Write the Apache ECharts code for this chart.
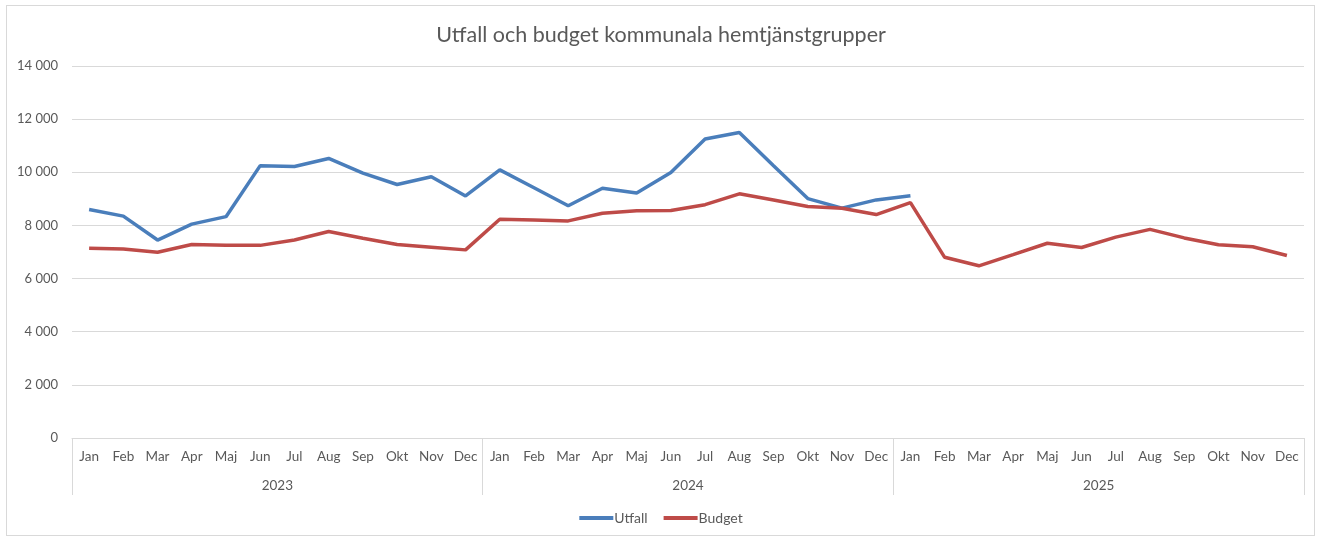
<!DOCTYPE html>
<html>
<head>
<meta charset="utf-8">
<style>
  html, body { margin: 0; padding: 0; background: #fff; }
  #frame { position: absolute; left: 6px; top: 5px; width: 1309px; height: 531px; border: 1px solid #d9d9d9; box-sizing: border-box; }
  #chart { position: absolute; left: 0; top: 0; width: 1322px; height: 539px; }
</style>
<script src="https://cdn.jsdelivr.net/npm/echarts@6/dist/echarts.min.js"></script>
</head>
<body>
<div id="frame"></div>
<div id="chart"></div>
<script>
const months = ['Jan', 'Feb', 'Mar', 'Apr', 'Maj', 'Jun', 'Jul', 'Aug', 'Sep', 'Okt', 'Nov', 'Dec'];
const years = ['2023', '2024', '2025'];

// Utfall (bara fram till jan 2025)
const utfall = [
  8600, 8350, 7450, 8050, 8330, 10250, 10220, 10520, 9970, 9540, 9830, 9110,
  10090, 9420, 8740, 9400, 9220, 9990, 11250, 11500, 10250, 9010, 8650, 8960,
  9120, null, null, null, null, null, null, null, null, null, null, null
];

const budget = [
  7140, 7110, 6990, 7280, 7250, 7250, 7450, 7770, 7520, 7280, 7180, 7080,
  8230, 8200, 8170, 8460, 8550, 8560, 8780, 9190, 8960, 8710, 8650, 8410,
  8860, 6800, 6480, 6900, 7330, 7170, 7560, 7850, 7530, 7270, 7200, 6870
];

const categories = [];
years.forEach(() => months.forEach(m => categories.push(m)));

const chart = echarts.init(document.getElementById('chart'));
const textColor = '#595959';
const font = 'Lato, "Open Sans", sans-serif';

chart.setOption({
  backgroundColor: 'transparent',
  animation: false,
  title: {
    text: 'Utfall och budget kommunala hemtjänstgrupper',
    left: 'center',
    top: 19,
    textStyle: { color: textColor, fontSize: 21.5, fontWeight: 'normal', fontFamily: font },
  },
  legend: {
    data: ['Utfall', 'Budget'],
    bottom: 9,
    left: 'center',
    icon: 'rect',
    itemWidth: 34,
    itemHeight: 4,
    itemGap: 16,
    textStyle: { color: textColor, fontSize: 14, fontFamily: font, padding: [0, 0, 0, -4] },
  },
  grid: { left: 72, right: 18, top: 66, bottom: 101 },
  xAxis: [
    {
      type: 'category',
      data: categories,
      boundaryGap: true,
      axisLine: { lineStyle: { color: '#d9d9d9', width: 1 } },
      axisTick: { show: false },
      axisLabel: { color: textColor, fontSize: 13.5, fontFamily: font, margin: 12, interval: 0 },
    },
    {
      type: 'category',
      data: years,
      position: 'bottom',
      boundaryGap: true,
      axisLine: { show: false },
      axisTick: { show: true, length: 57, lineStyle: { color: '#d9d9d9' } },
      axisLabel: { color: textColor, fontSize: 13.5, fontFamily: font, margin: 41 },
    },
  ],
  yAxis: {
    type: 'value',
    min: 0,
    max: 14000,
    interval: 2000,
    axisLine: { show: false },
    axisTick: { show: false },
    axisLabel: {
      color: textColor,
      fontSize: 13,
      fontFamily: font,
      margin: 14,
      formatter: v => v.toLocaleString('sv-SE').replace(/\s/g, ' '),
    },
    splitLine: { lineStyle: { color: '#d9d9d9', width: 1 } },
  },
  series: [
    {
      name: 'Utfall',
      type: 'line',
      data: utfall,
      showSymbol: false,
      connectNulls: false,
      lineStyle: { color: '#4a7ebb', width: 3.5 },
      itemStyle: { color: '#4a7ebb' },
    },
    {
      name: 'Budget',
      type: 'line',
      data: budget,
      showSymbol: false,
      lineStyle: { color: '#be4b48', width: 3.5 },
      itemStyle: { color: '#be4b48' },
    },
  ],
});
</script>
</body>
</html>
